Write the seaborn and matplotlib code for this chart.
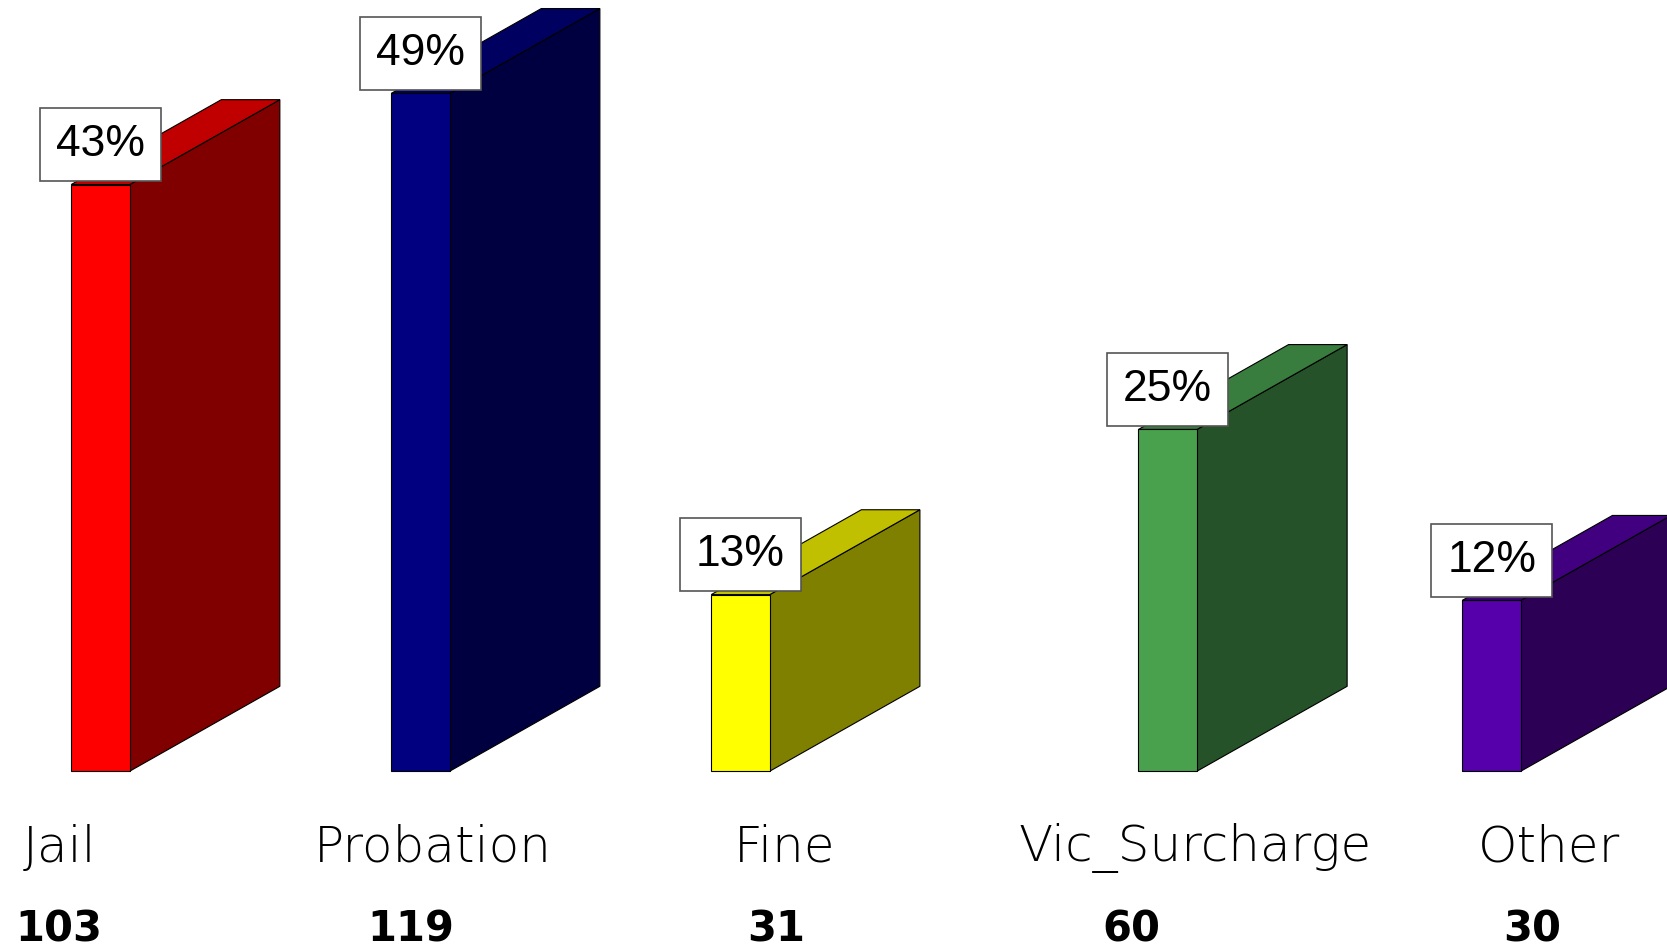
import matplotlib
matplotlib.use("Agg")
import matplotlib.pyplot as plt
from matplotlib.patches import Polygon
import seaborn as sns
import pandas as pd

# data
categories = ["Jail", "Probation", "Fine", "Vic_Surcharge", "Other"]
counts = [103, 119, 31, 60, 30]
percent_labels = ["43%", "49%", "13%", "25%", "12%"]

# layout: bar slots (not evenly spaced in the original)
slots = [0, 1, 2, 3.335, 4.347]
label_x = [0.0357, 0.2596, 0.4707, 0.7168, 0.9292]
count_x = [0.0351, 0.2462, 0.4656, 0.6786, 0.9190]

front_colors = ["#FF0000", "#000080", "#FFFF00", "#4AA14D", "#5500AA"]
side_colors = ["#800000", "#000040", "#808000", "#255228", "#2B0055"]
top_colors = ["#C00000", "#000060", "#C0C000", "#387C3E", "#400080"]

depth_x, depth_y = 0.469, 14.9

df = pd.DataFrame({"slot": slots, "category": categories, "count": counts})

sns.set_style("white")
fig = plt.figure(figsize=(16.67, 9.52), dpi=100)
ax = fig.add_axes([0, 0, 1, 1])

sns.barplot(data=df, x="slot", y="count", hue="category", native_scale=True,
            palette=dict(zip(categories, front_colors)), width=0.183,
            dodge=False, legend=False, edgecolor="black", linewidth=0.8,
            saturation=1, ax=ax, zorder=3)

bars = sorted(ax.patches, key=lambda p: p.get_x())
for i, bar in enumerate(bars):
    x0 = bar.get_x()
    x1 = x0 + bar.get_width()
    h = bar.get_height()
    side = Polygon([(x1, 0), (x1 + depth_x, depth_y), (x1 + depth_x, h + depth_y), (x1, h)],
                   closed=True, facecolor=side_colors[i], edgecolor="black", lw=0.8, zorder=2)
    top = Polygon([(x0, h), (x1, h), (x1 + depth_x, h + depth_y), (x0 + depth_x, h + depth_y)],
                  closed=True, facecolor=top_colors[i], edgecolor="black", lw=0.8, zorder=2)
    ax.add_patch(side)
    ax.add_patch(top)
    ax.annotate(percent_labels[i], xy=(x0 + bar.get_width() / 2, h), xytext=(0, 29),
                textcoords="offset points", ha="center", va="center", color="black",
                fontsize=32, family="Liberation Sans", zorder=5,
                bbox=dict(boxstyle="square,pad=0.36", fc="white", ec="#555555", lw=1.2))

ax.set_xlim(-0.314, 4.895)
ax.set_ylim(-31.75, 135.4)
ax.axis("off")

for i, name in enumerate(categories):
    fig.text(label_x[i], 1 - 797 / 895, name, ha="center", va="center", color="black",
             fontsize=36, family="DejaVu Sans", fontweight="light")
    fig.text(count_x[i], 1 - 874 / 895, str(counts[i]), ha="center", va="center",
             color="black", fontsize=30, family="DejaVu Sans", fontweight="bold")

fig.savefig("out.png", dpi=100)
